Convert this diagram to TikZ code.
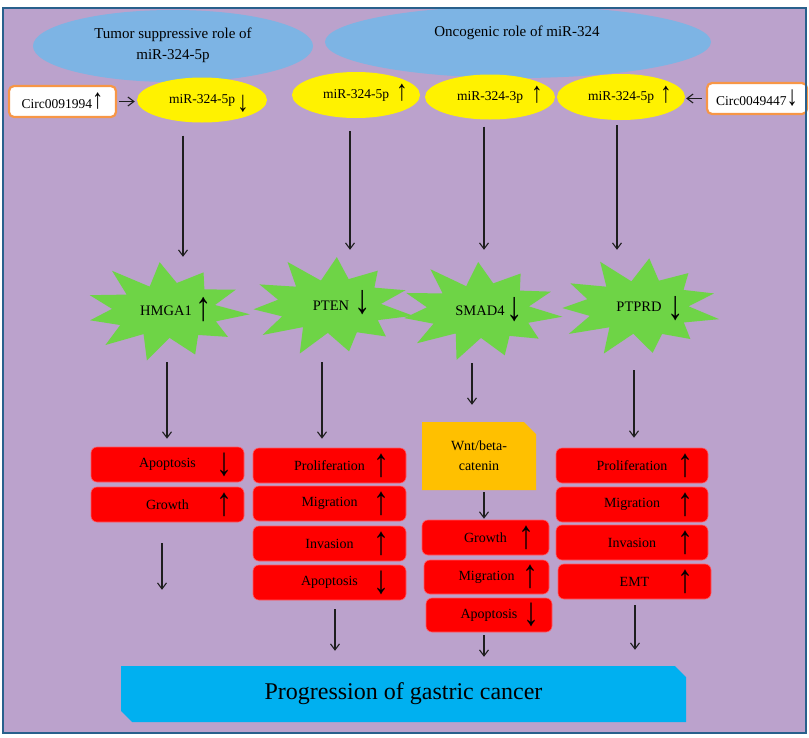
\documentclass[tikz,border=0pt]{standalone}
\usepackage{fontspec}
\usepackage{graphicx}
\setmainfont{Liberation Serif}
\usetikzlibrary{arrows.meta,shapes.geometric,shapes.misc}

\definecolor{bgpurple}{RGB}{187,162,204}
\definecolor{framecol}{RGB}{40,96,140}
\definecolor{ellblue}{RGB}{125,180,228}
\definecolor{stargreen}{RGB}{110,212,70}
\definecolor{boxred}{RGB}{255,0,0}
\definecolor{redrim}{RGB}{255,90,100}
\definecolor{wntorange}{RGB}{255,192,0}
\definecolor{cyanbox}{RGB}{0,176,240}
\definecolor{circorange}{RGB}{247,150,70}
\definecolor{arrowcol}{RGB}{30,30,30}

\newcommand\gburst[5]{% cx cy rx ry rot
  \fill[stargreen] plot[variable=\k, samples at={0,...,21}]
   ({#1+(0.8+0.2*cos(180*\k))*(1+0.08*sin(137*\k))*#3*cos(\k*360/22+#5)},
    {#2+(0.8+0.2*cos(180*\k))*(1+0.08*sin(137*\k))*#4*sin(\k*360/22+#5)}) -- cycle;}
\newcommand\garr[2]{\scalebox{0.8}[1]{\fontsize{#1}{#1}\selectfont #2}}

\begin{document}
\begin{tikzpicture}[x=1pt,y=-1pt,
  arr/.style={draw=arrowcol, line width=1.1pt, -{Straight Barb[length=6pt,width=9pt]}},
  roleell/.style={ellipse, fill=ellblue, inner sep=0pt},
  roletext/.style={align=center, inner sep=0pt, font=\fontsize{15}{21}\selectfont},
  mirell/.style={ellipse, fill=yellow, inner sep=0pt, font=\fontsize{13.5}{16}\selectfont},
  mirarr/.style={inner sep=0pt},
  startext/.style={inner sep=0pt, minimum width=157pt, minimum height=89pt, font=\fontsize{14.5}{16}\selectfont},
  bigarr/.style={inner sep=0pt},
  redbox/.style={rectangle, rounded corners=6pt, fill=boxred, draw=redrim, line width=0.6pt, minimum width=153pt, minimum height=35pt, inner sep=0pt, font=\fontsize{14}{16}\selectfont},
  circbox/.style={rectangle, rounded corners=5pt, fill=white, draw=circorange, line width=2.2pt, minimum height=31pt, inner sep=0pt, font=\fontsize{13.5}{16}\selectfont}
]
\useasboundingbox (0,0) rectangle (809,737);
\fill[white] (0,0) rectangle (809,737);
\fill[bgpurple] (3,8) rectangle (806,733);

\begin{scope}
\clip (3,8) rectangle (806,733);
\node[roleell, minimum width=280pt, minimum height=72pt] (e1) at (173,46) {};
\node[roleell, minimum width=386pt, minimum height=72pt] (e2) at (518,42) {};
\end{scope}
\node[roletext] (t1) at (173,45) {Tumor suppressive role of\\miR-324-5p};
\node[roletext] (t2) at (517,33) {Oncogenic role of miR-324};

% miRNA ellipses
\node[mirell, minimum width=130pt, minimum height=45pt] (y1) at (202,100) {miR-324-5p};
\node[mirell, minimum width=128pt, minimum height=46pt] (y2) at (356,95) {miR-324-5p};
\node[mirell, minimum width=130pt, minimum height=45pt] (y3) at (490,97) {miR-324-3p};
\node[mirell, minimum width=128pt, minimum height=46pt] (y4) at (621,97) {miR-324-5p};
\node[mirarr] (y1a) at (243,104) {\garr{29}{↓}};
\node[mirarr] (y2a) at (402,93) {\garr{29}{↑}};
\node[mirarr] (y3a) at (537,95) {\garr{29}{↑}};
\node[mirarr] (y4a) at (666,95) {\garr{29}{↑}};

% circRNA boxes
\node[circbox, minimum width=107pt] (c1) at (62.5,101.5) {Circ0091994\garr{28}{↑}};
\node[circbox, minimum width=100pt] (c2) at (757,98.5) {Circ0049447\garr{28}{↓}};
\draw[arr, shorten <=2pt, shorten >=2pt] (c1.east) -- (c1.east -| y1.west);
\draw[arr, shorten <=4pt, shorten >=1pt] (c2.west) -- (c2.west -| y4.east);

% stars
\gburst{166}{311}{84}{47}{4}
\gburst{331}{306}{84}{47}{12}
\gburst{480}{311}{83}{47}{7}
\gburst{639}{307}{83}{47}{15}
\node[startext] (s1) at (166,311) {HMGA1};
\node[startext] (s2) at (331,306) {PTEN};
\node[startext] (s3) at (480,311) {SMAD4};
\node[startext] (s4) at (639,307) {PTPRD};
\node[bigarr] (s1a) at (204,310) {\garr{41}{↑}};
\node[bigarr] (s2a) at (363,303) {\garr{41}{↓}};
\node[bigarr] (s3a) at (515,310) {\garr{41}{↓}};
\node[bigarr] (s4a) at (676,309) {\garr{41}{↓}};

% miRNA -> targets
\draw[arr, shorten <=13pt, shorten >=9.5pt] ([xshift=-19pt]y1.south) -- ([xshift=17pt]s1.north);
\draw[arr, shorten <=13pt, shorten >=11.5pt] ([xshift=-6pt]y2.south) -- ([xshift=19pt]s2.north);
\draw[arr, shorten <=7pt, shorten >=16.5pt] ([xshift=-6pt]y3.south) -- ([xshift=4pt]s3.north);
\draw[arr, shorten <=5pt, shorten >=12.5pt] ([xshift=-4pt]y4.south) -- ([xshift=-22pt]s4.north);

% column 1
\node[redbox] (b11) at (167.5,464.5) {Apoptosis};
\node[redbox] (b12) at (167.5,504.5) {Growth};
\node[bigarr] (b11a) at (224,464.5) {\garr{40}{↓}};
\node[bigarr] (b12a) at (224,504.5) {\garr{40}{↑}};
% column 2
\node[redbox] (b21) at (329.5,465.5) {Proliferation};
\node[redbox] (b22) at (329.5,503.5) {Migration};
\node[redbox] (b23) at (329.5,543.5) {Invasion};
\node[redbox] (b24) at (329.5,582.5) {Apoptosis};
\node[bigarr] (b21a) at (381,465.5) {\garr{40}{↑}};
\node[bigarr] (b22a) at (381,503.5) {\garr{40}{↑}};
\node[bigarr] (b23a) at (381,543.5) {\garr{40}{↑}};
\node[bigarr] (b24a) at (381,582.5) {\garr{40}{↓}};
% column 3
\node[chamfered rectangle, chamfered rectangle corners=north east, chamfered rectangle xsep=9pt,
      fill=wntorange, minimum width=114pt, minimum height=68pt, inner sep=0pt, align=center,
      font=\fontsize{14}{20}\selectfont] (wnt) at (479,456) {Wnt/beta-\\catenin};
\node[redbox, minimum width=127pt] (b31) at (485.5,537.5) {Growth};
\node[redbox, minimum width=125pt, minimum height=34pt] (b32) at (486.5,577) {Migration};
\node[redbox, minimum width=126pt, minimum height=34pt] (b33) at (489,615) {Apoptosis};
\node[bigarr] (b31a) at (526,537.5) {\garr{40}{↑}};
\node[bigarr] (b32a) at (530,577) {\garr{40}{↑}};
\node[bigarr] (b33a) at (531,615) {\garr{40}{↓}};
% column 4
\node[redbox, minimum width=152pt] (b41) at (632,465.5) {Proliferation};
\node[redbox, minimum width=152pt] (b42) at (632,504.5) {Migration};
\node[redbox, minimum width=152pt] (b43) at (632,542.5) {Invasion};
\node[redbox] (b44) at (634.5,581.5) {EMT};
\node[bigarr] (b41a) at (685,465.5) {\garr{40}{↑}};
\node[bigarr] (b42a) at (685,504.5) {\garr{40}{↑}};
\node[bigarr] (b43a) at (685,542.5) {\garr{40}{↑}};
\node[bigarr] (b44a) at (685,581.5) {\garr{40}{↑}};

% targets -> effects
\draw[arr, shorten <=6.5pt, shorten >=8pt] ([xshift=1pt]s1.south) -- ([xshift=-0.5pt]b11.north);
\draw[arr, shorten <=11.5pt, shorten >=9pt] ([xshift=-9pt]s2.south) -- ([xshift=-7.5pt]b21.north);
\draw[arr, shorten <=7.5pt, shorten >=17pt] ([xshift=-8pt]s3.south) -- ([xshift=-7pt]wnt.north);
\draw[arr, shorten <=18.5pt, shorten >=10pt] ([xshift=-5pt]s4.south) -- ([xshift=2pt]b41.north);
\draw[arr, shorten <=2pt, shorten >=1pt] ([xshift=5pt]wnt.south) -- ([xshift=-1.5pt]b31.north);

% progression box
\node[chamfered rectangle, chamfered rectangle corners={north east,south west}, chamfered rectangle xsep=8pt,
      fill=cyanbox, minimum width=565pt, minimum height=56pt, inner sep=0pt,
      font=\fontsize{24}{28}\selectfont] (pg) at (403.5,694) {Progression of gastric cancer};

\draw[arr, shorten <=21pt, shorten >=76pt] ([xshift=-5.5pt]b12.south) -- ([xshift=-241.5pt]pg.north);
\draw[arr, shorten <=9pt, shorten >=15pt] ([xshift=5.5pt]b24.south) -- ([xshift=-68.5pt]pg.north);
\draw[arr, shorten <=3pt, shorten >=9pt] ([xshift=-5pt]b33.south) -- ([xshift=80.5pt]pg.north);
\draw[arr, shorten <=6pt, shorten >=16pt] ([xshift=0.5pt]b44.south) -- ([xshift=231.5pt]pg.north);

\draw[framecol, line width=2.5pt] (3,8) rectangle (806,733);
\end{tikzpicture}
\end{document}
